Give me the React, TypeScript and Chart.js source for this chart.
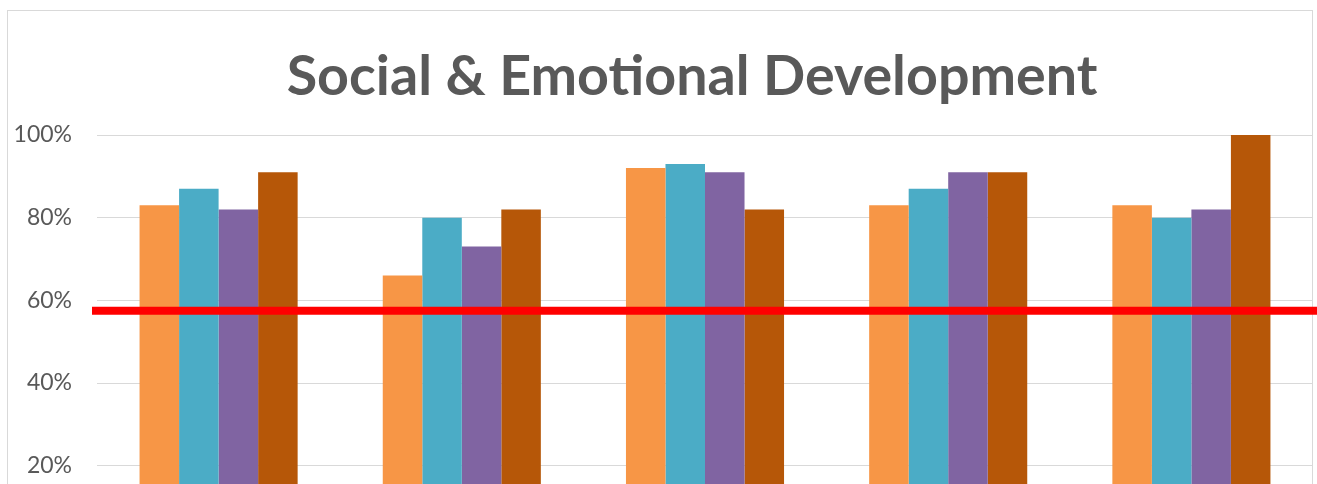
import React, { useEffect, useRef } from "react";
import { Chart, registerables } from "chart.js";

Chart.register(...registerables);

const categories = ["Group 1", "Group 2", "Group 3", "Group 4", "Group 5"];
const series1 = [83, 66, 92, 83, 83];
const series2 = [87, 80, 93, 87, 80];
const series3 = [82, 73, 91, 91, 82];
const series4 = [91, 82, 82, 91, 100];
const seriesNames = ["Series 1", "Series 2", "Series 3", "Series 4"];
const seriesColors = ["#F79646", "#4BACC6", "#8064A2", "#B65708"];
const thresholdValue = 57.5;
const yTicks = [0, 20, 40, 60, 80, 100];
const titleText = "Social & Emotional Development";

const CANVAS_W = 1320;
const CANVAS_H = 600;

const thresholdPlugin = {
  id: "thresholdLine",
  afterLayout(chart: any) {
    // centre the title slightly right of the canvas centre, as in the original
    const t = chart.titleBlock;
    if (t) {
      const shift = 32;
      t.left += shift;
      t.right += shift;
    }
  },
  afterDatasetsDraw(chart: any) {
    const { ctx, chartArea, scales } = chart;
    const y = scales.y.getPixelForValue(thresholdValue);
    ctx.save();
    ctx.strokeStyle = "#FF0000";
    ctx.lineWidth = 8;
    ctx.beginPath();
    ctx.moveTo(chartArea.left - 5, y);
    ctx.lineTo(chart.width, y);
    ctx.stroke();
    ctx.restore();
  },
};

export default function App() {
  const ref = useRef<HTMLCanvasElement | null>(null);
  useEffect(() => {
    if (!ref.current) return;
    const data = [series1, series2, series3, series4];
    const chart = new Chart(ref.current, {
      type: "bar",
      data: {
        labels: categories,
        datasets: data.map((d, i) => ({
          label: seriesNames[i],
          data: d,
          backgroundColor: seriesColors[i],
          borderWidth: 0,
          categoryPercentage: 0.65,
          barPercentage: 1.0,
        })),
      },
      options: {
        responsive: false,
        animation: false,
        devicePixelRatio: 1,
        layout: { padding: { left: 0, right: 14, top: 0, bottom: CANVAS_H - 548.4 } },
        plugins: {
          legend: { display: false },
          tooltip: { enabled: false },
          title: {
            display: true,
            text: titleText,
            color: "#595959",
            font: { family: "Lato", size: 55.6, weight: "bold", lineHeight: 1 },
            padding: { top: 49, bottom: 135 - 49 - 55.6 },
          },
        },
        scales: {
          x: {
            afterFit: (scale: any) => {
              scale.height = 0;
            },
            grid: { display: false },
            border: { display: false },
            ticks: { display: false },
          },
          y: {
            min: 0,
            max: 100,
            afterFit: (scale: any) => {
              scale.width = 90;
            },
            afterBuildTicks: (scale: any) => {
              scale.ticks = yTicks.map((v) => ({ value: v }));
            },
            grid: { color: "#D9D9D9", lineWidth: 1, drawTicks: false },
            border: { display: false },
            ticks: {
              padding: 25,
              color: "#595959",
              font: { family: "Lato", size: 23 },
              callback: (v: any) => v + "%",
            },
          },
        },
      },
      plugins: [thresholdPlugin],
    });
    return () => chart.destroy();
  }, []);

  return (
    <div style={{ position: "fixed", left: 0, top: 0, width: 1317, height: 484, overflow: "hidden", background: "#fff" }}>
      <div
        style={{
          position: "absolute",
          left: 7,
          top: 10,
          width: 1306,
          height: 800,
          boxSizing: "border-box",
          border: "1px solid #D9D9D9",
        }}
      />
      <canvas
        ref={ref}
        width={CANVAS_W}
        height={CANVAS_H}
        style={{ position: "absolute", left: 7, top: 0, width: CANVAS_W, height: CANVAS_H }}
      />
    </div>
  );
}
